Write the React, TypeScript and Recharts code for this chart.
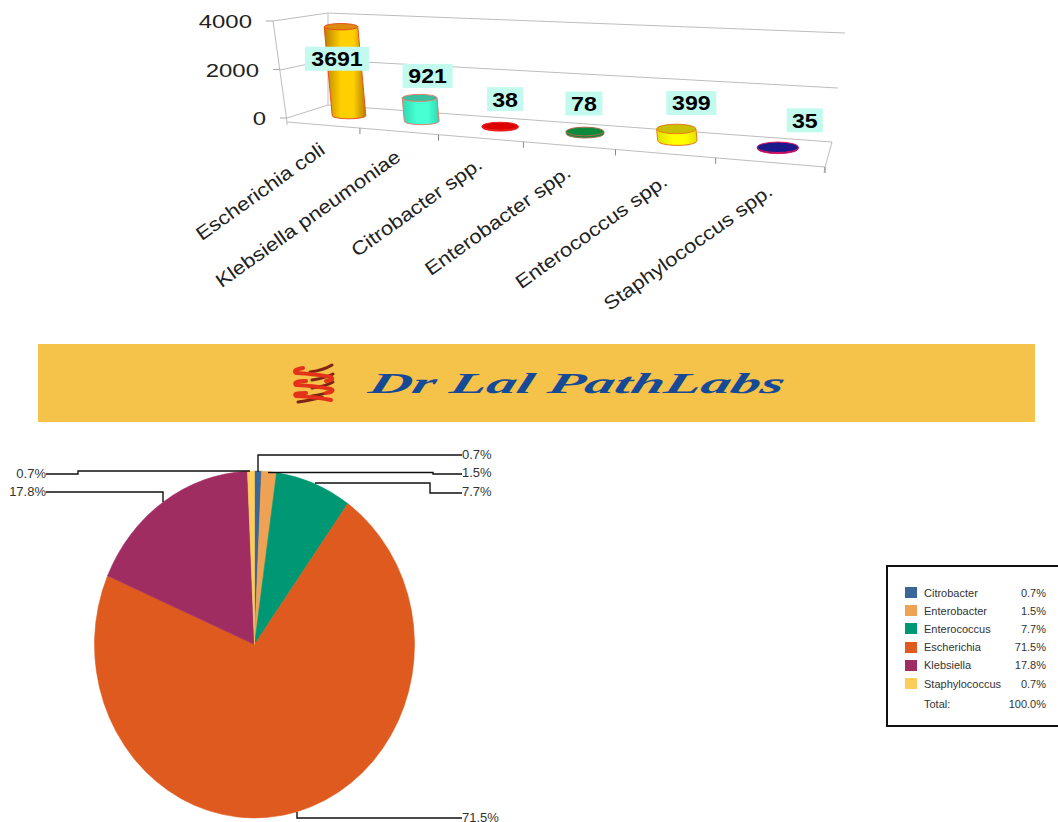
import React from 'react';
import { BarChart, Bar, XAxis, YAxis, LabelList, PieChart, Pie, Legend } from 'recharts';

// top chart
const organisms = ['Escherichia coli', 'Klebsiella pneumoniae', 'Citrobacter spp.', 'Enterobacter spp.', 'Enterococcus spp.', 'Staphylococcus spp.'];
const counts = [3691, 921, 38, 78, 399, 35];
const countTicks = [0, 2000, 4000];

// bottom chart
const groups = ['Citrobacter', 'Enterobacter', 'Enterococcus', 'Escherichia', 'Klebsiella', 'Staphylococcus'];
const shares = [0.7, 1.5, 7.7, 71.5, 17.8, 0.7];

const barData = organisms.map((name, i) => ({ name, count: counts[i] }));
const pieData = groups.map((name, i) => ({ name, share: shares[i] }));

const FONT = '"Liberation Sans", Arial, sans-serif';

const barStyles = [
  { id: 'gold', edge: '#b87f00', mid: '#ffd000', top: '#dc8c0c', stroke: '#e8501c' },
  { id: 'teal', edge: '#2fd8b0', mid: '#48ffd4', top: '#3cbf9f', stroke: '#e08070' },
  { id: 'red', edge: '#d80000', mid: '#e80000', top: '#dc0000', stroke: '#f02020' },
  { id: 'green', edge: '#0b8a3c', mid: '#0b8a3c', top: '#0b8a3c', stroke: '#a86848' },
  { id: 'yellow', edge: '#e0e000', mid: '#ffff00', top: '#c8c000', stroke: '#f07818' },
  { id: 'navy', edge: '#1a1a8c', mid: '#1a1a8c', top: '#1a1a8c', stroke: '#e01060' },
];

// label box offset from the top of each bar
const labelNudge = [[-4, 32], [8, -22], [5, -27], [-1, -28], [15, -26], [27, -27]];
const labelBoxW = [64, 50, 36, 37, 50, 36];

const PLOT_LEFT = 287;
const PLOT_W = 538;
const PLOT_TOP = 21;
const PLOT_BASE = 118;

// the 3d look: x positions bunch up towards the back left
const persp = (u: number) => (u * 0.784) / (1 - 0.216 * u);

function placeBar(x: number, width: number, height: number) {
  const t = persp((x + width / 2 - PLOT_LEFT) / PLOT_W);
  const cx = 314.6 + 517 * t;
  const base = 113 + 39.5 * t;
  const h = height * (0.97 + 0.35 * t);
  return { t, cx, base, h, topX: cx - 0.09 * h, topY: base - h, rx: (33 + 9 * t) / 2, ry: 3 + 2.5 * t };
}

const Cylinder = (props: any) => {
  const { x, width, height, index } = props;
  const p = placeBar(x, width, height);
  const s = barStyles[index];
  const { rx, ry, cx, base, topX, topY } = p;
  return (
    <g stroke={s.stroke} strokeWidth={1}>
      <path
        d={`M${cx - rx} ${base} L${topX - rx} ${topY} L${topX + rx} ${topY} L${cx + rx} ${base} A${rx} ${ry} 0 0 1 ${cx - rx} ${base} Z`}
        fill={`url(#cyl-${s.id})`}
      />
      <ellipse cx={topX} cy={topY} rx={rx} ry={ry} fill={s.top} />
    </g>
  );
};

const ValueLabel = (props: any) => {
  const { x, width, height, value, index } = props;
  const p = placeBar(x, width, height);
  const lx = p.topX + labelNudge[index][0];
  const ly = p.topY + labelNudge[index][1];
  const w = labelBoxW[index];
  return (
    <g>
      <rect x={lx - w / 2} y={ly - 12} width={w} height={24} fill="#c2fbee" />
      <text
        transform={`translate(${lx} ${ly + 7.5}) scale(1.1 1)`}
        textAnchor="middle"
        fontFamily={FONT}
        fontWeight="bold"
        fontSize={21}
        fill="#000"
      >
        {value}
      </text>
    </g>
  );
};

const CountTick = (props: any) => {
  const { y, payload } = props;
  const frac = payload.value / 4000;
  const tx = PLOT_LEFT - 14 * frac;
  return (
    <g>
      <line x1={tx - 7} x2={tx} y1={y} y2={y} stroke="#aaa" />
      <text
        transform={`translate(${tx - 21} ${y + 7}) scale(1.26 1)`}
        textAnchor="end"
        fontFamily={FONT}
        fontSize={19}
        fill="#222"
      >
        {payload.value}
      </text>
    </g>
  );
};

const OrganismTick = (props: any) => {
  const { index, payload } = props;
  const t = persp((index + 1) / organisms.length);
  const tx = PLOT_LEFT + PLOT_W * t;
  const ty = 122 + 45 * t;
  return (
    <g>
      <line x1={tx} x2={tx} y1={ty} y2={ty + 6} stroke="#888" />
      <text
        transform={`translate(${tx - 31 - 20 * t} ${ty + 24 + 3 * t}) rotate(-35.5) scale(1.16 1)`}
        textAnchor="end"
        fontFamily={FONT}
        fontSize={19}
        fill="#222"
      >
        {payload.value}
      </text>
    </g>
  );
};

const wallLines = [
  'M328 13 L845 33', 'M328 60 L838 88', 'M328 105 L832 142',
  'M273 21 L287 122', 'M273 21 L328 13', 'M280 70 L328 60', 'M287 118 L328 105',
  'M328 13 L328 105', 'M287 122 L825 167', 'M825 167 L832 142', 'M825 167 L824 173', 'M287 122 L287 125',
];

// pie is drawn taller than wide in the original
const STRETCH = 1.084;
const RAD = Math.PI / 180;

const OvalSlice = (props: any) => {
  const { cx, cy, outerRadius: r, startAngle, endAngle, fill } = props;
  const ry = r * STRETCH;
  const x1 = cx + r * Math.cos(startAngle * RAD);
  const y1 = cy - ry * Math.sin(startAngle * RAD);
  const x2 = cx + r * Math.cos(endAngle * RAD);
  const y2 = cy - ry * Math.sin(endAngle * RAD);
  const large = Math.abs(endAngle - startAngle) > 180 ? 1 : 0;
  return <path d={`M${cx} ${cy} L${x1} ${y1} A${r} ${ry} 0 ${large} 1 ${x2} ${y2} Z`} fill={fill} stroke={fill} strokeWidth={0.6} />;
};

const pieColors = ['#3a6699', '#f0a254', '#009874', '#de5a1e', '#a02d62', '#fdcd5b'];

// leader routes out of each slice, ending at the label
const leaders = [
  { start: [258, 472], path: [[258, 455], [462, 455]], side: 'right', labelY: 454 },
  { start: [268, 472.5], path: [[433, 472.5], [433, 474], [462, 474]], side: 'right', labelY: 472 },
  { start: [315, 483], path: [[430, 483], [430, 493], [462, 493]], side: 'right', labelY: 491 },
  { start: [297, 812], path: [[297, 818], [462, 818]], side: 'right', labelY: 817 },
  { start: [163, 502], path: [[163, 492], [46, 492]], side: 'left', labelY: 491 },
  { start: [250, 471], path: [[78, 471], [78, 474], [46, 474]], side: 'left', labelY: 473 },
];

const SliceLabel = (props: any) => {
  const { index, value } = props;
  const l = leaders[index];
  const pts = [l.start, ...l.path].map((p) => p.join(',')).join(' ');
  const end = l.path[l.path.length - 1];
  return (
    <g>
      <polyline points={pts} fill="none" stroke="#111" strokeWidth={1.4} />
      <text
        x={end[0]}
        y={l.labelY + 4.5}
        textAnchor={l.side === 'right' ? 'start' : 'end'}
        fontFamily={FONT}
        fontSize={13}
        fill="#333"
      >
        {value.toFixed(1)}%
      </text>
    </g>
  );
};

const KeyBox = () => {
  const rowText: React.CSSProperties = { position: 'absolute', left: 36, lineHeight: '14px', whiteSpace: 'nowrap' };
  const rowPct: React.CSSProperties = { position: 'absolute', right: 31, lineHeight: '14px' };
  return (
    <div style={{ position: 'relative', width: 189, height: 158, border: '2px solid #111', background: '#fff', fontFamily: FONT, fontSize: 11, color: '#333' }}>
      {groups.map((g, i) => {
        const top = 18.5 + i * 18.2;
        return (
          <React.Fragment key={g}>
            <div style={{ position: 'absolute', left: 17, top: top + 1.5, width: 12, height: 11, background: pieColors[i] }} />
            <div style={{ ...rowText, top }}>{g}</div>
            <div style={{ ...rowPct, top }}>{shares[i].toFixed(1)}%</div>
          </React.Fragment>
        );
      })}
      <div style={{ ...rowText, top: 130 }}>Total:</div>
      <div style={{ ...rowPct, top: 130 }}>100.0%</div>
    </div>
  );
};

const Banner = () => (
  <svg width={997} height={78} style={{ position: 'absolute', left: 38, top: 344, background: '#f5c24a' }}>
    <g transform="translate(-38 -344)" fill="none" strokeLinecap="round">
      <g stroke="#7d2414" strokeWidth={3}>
        <path d="M310 372 Q324 370 332 365" />
        <path d="M312 380 Q326 378 333 374" />
        <path d="M312 388 Q326 386 333 382" />
        <path d="M312 396 Q326 394 333 390" />
        <path d="M298 402 Q312 400 322 397" />
      </g>
      <g stroke="#e2321a" strokeWidth={4}>
        <path d="M303 368 Q292 370 296 373 Q316 374 331 377 Q335 380 326 381" />
        <path d="M306 381 Q292 381 296 385 Q316 386 331 389 Q335 392 326 393" />
        <path d="M306 393 Q292 393 296 396 Q316 397 331 400" />
      </g>
    </g>
    <g transform="translate(329 49) skewX(-16)">
      <text
        x={0}
        y={0}
        textLength={415}
        lengthAdjust="spacingAndGlyphs"
        fontFamily='"Liberation Serif", serif'
        fontStyle="italic"
        fontWeight="bold"
        fontSize={29}
        fill="#174a96"
      >
        Dr Lal PathLabs
      </text>
    </g>
  </svg>
);

export default function App() {
  return (
    <div style={{ position: 'relative', width: 1058, height: 822, overflow: 'hidden', background: '#fff' }}>
      <style>{'body{margin:0}'}</style>
      <Banner />
      <div style={{ position: 'absolute', left: 0, top: 0 }}>
        <BarChart
          width={1058}
          height={340}
          data={barData}
          margin={{ left: 0, right: 1058 - PLOT_LEFT - PLOT_W, top: PLOT_TOP, bottom: 0 }}
          barCategoryGap="55%"
        >
          <defs>
            {barStyles.map((s) => (
              <linearGradient key={s.id} id={`cyl-${s.id}`} x1="0" x2="1" y1="0" y2="0">
                <stop offset="0" stopColor={s.edge} />
                <stop offset="0.4" stopColor={s.mid} />
                <stop offset="0.7" stopColor={s.mid} />
                <stop offset="1" stopColor={s.edge} />
              </linearGradient>
            ))}
          </defs>
          <g stroke="#bdbdbd" strokeWidth={1} fill="none">
            {wallLines.map((d) => (
              <path key={d} d={d} />
            ))}
          </g>
          <XAxis dataKey="name" interval={0} axisLine={false} tickLine={false} tick={OrganismTick} height={340 - PLOT_BASE} />
          <YAxis domain={[0, 4000]} ticks={countTicks} axisLine={false} tickLine={false} tick={CountTick} width={PLOT_LEFT} />
          <Bar dataKey="count" shape={Cylinder} isAnimationActive={false}>
            <LabelList dataKey="count" content={ValueLabel} />
          </Bar>
        </BarChart>
      </div>
      <div style={{ position: 'absolute', left: 0, top: 0 }}>
        <PieChart width={1058} height={822} margin={{ left: 0, right: 0, top: 0, bottom: 0 }}>
          <Pie
            data={pieData}
            dataKey="share"
            nameKey="name"
            cx={254.5}
            cy={644.5}
            outerRadius={160}
            startAngle={90}
            endAngle={-270}
            stroke="none"
            shape={(p: any) => <OvalSlice {...p} fill={pieColors[p.index]} />}
            label={SliceLabel}
            labelLine={false}
            isAnimationActive={false}
          />
          <Legend content={KeyBox} layout="vertical" wrapperStyle={{ position: 'absolute', left: 886, top: 565, width: 193, bottom: 'auto', right: 'auto' }} />
        </PieChart>
      </div>
    </div>
  );
}
